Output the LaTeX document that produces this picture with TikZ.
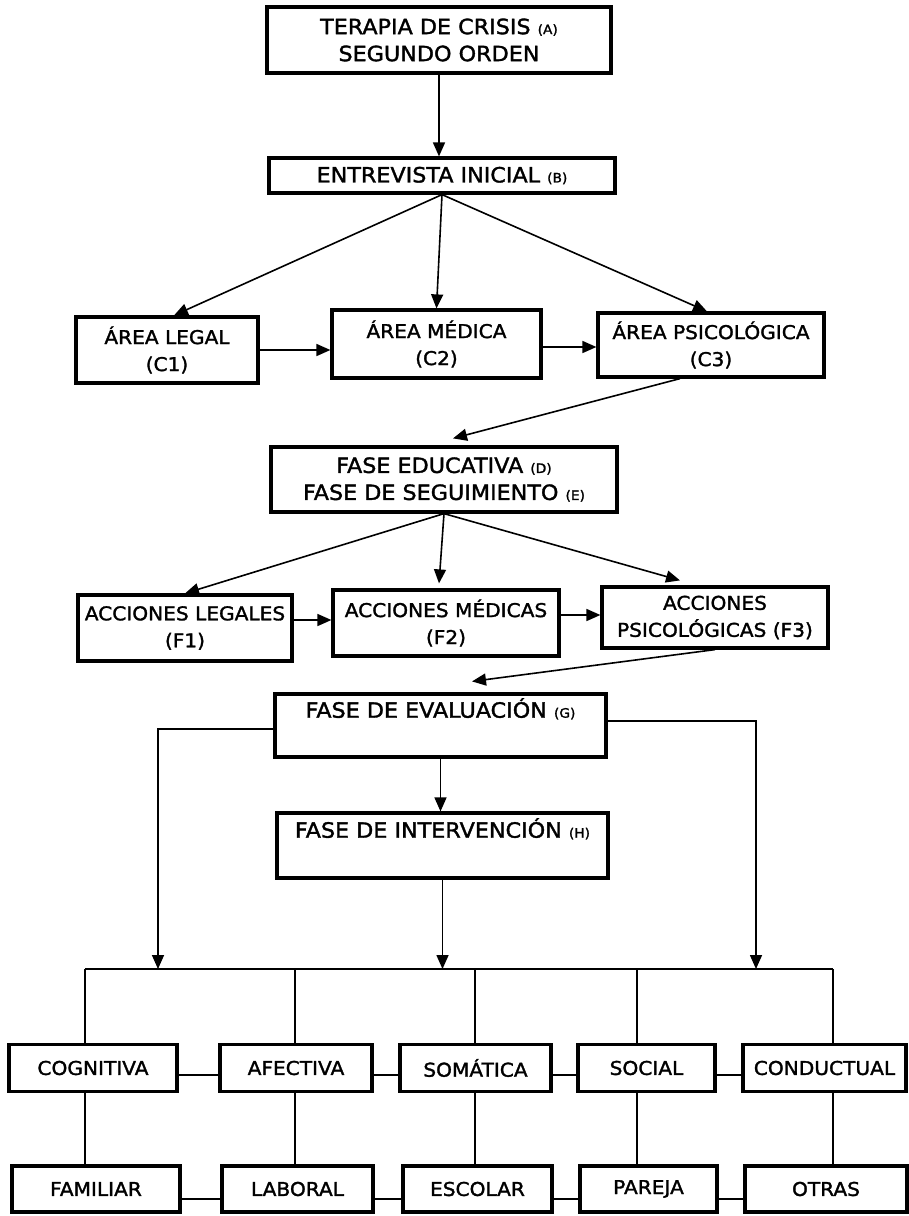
\documentclass[tikz,border=0pt]{standalone}
\usepackage{fontspec}
\setmainfont{DejaVu Sans}[FakeStretch=1.06,RawFeature={embolden=1.6}]
\usetikzlibrary{arrows.meta}
\newcommand{\lettag}[1]{{\fontsize{6.5}{6.5}\selectfont #1}}
\tikzset{
    phase/.style = {
        draw,
        line width=1.6pt,
        inner sep=0pt,
        align=center,
        font=\fontsize{10.5}{13.5}\selectfont,
        },
    area/.style = {
        draw,
        line width=1.6pt,
        inner sep=0pt,
        align=center,
        font=\fontsize{9.5}{13.5}\selectfont,
        },
    link/.style = {
        line width=0.8pt,
        -{Triangle[length=7pt,width=6pt]},
        },
    tie/.style = {
        line width=0.8pt,
        },
}

\begin{document}
\begin{tikzpicture}[x=0.5pt, y=-0.5pt]
    \useasboundingbox (0,0) rectangle (909,1216);

    % phases and areas
    \node[phase, minimum width=172pt, minimum height=33pt] (A) at (439,40) {TERAPIA DE CRISIS \lettag{(A)}\\SEGUNDO ORDEN};
    \node[phase, minimum width=173pt, minimum height=17.5pt] (B) at (442,175.5) {ENTREVISTA INICIAL \lettag{(B)}};
    \node[area, minimum width=91pt, minimum height=33pt] (C1) at (167,350) {ÁREA LEGAL\\(C1)};
    \node[area, minimum width=104.5pt, minimum height=34pt] (C2) at (436.5,344) {ÁREA MÉDICA\\(C2)};
    \node[area, minimum width=113pt, minimum height=32pt] (C3) at (711,345) {ÁREA PSICOLÓGICA\\(C3)};
    \node[phase, minimum width=173pt, minimum height=32.5pt] (D) at (444,479.5) {FASE EDUCATIVA \lettag{(D)}\\FASE DE SEGUIMIENTO \lettag{(E)}};
    \node[area, minimum width=107pt, minimum height=33pt] (F1) at (185,628) {ACCIONES LEGALES\\(F1)};
    \node[area, minimum width=113pt, minimum height=33pt] (F2) at (446,623) {ACCIONES MÉDICAS\\(F2)};
    \node[area, minimum width=113pt, minimum height=30.5pt] (F3) at (715,617.5) {ACCIONES\\PSICOLÓGICAS (F3)};
    \node[phase, minimum width=165.5pt, minimum height=31.5pt] (G) at (440.5,725.5) {FASE DE EVALUACIÓN \lettag{(G)}\\\strut};
    \node[phase, minimum width=165.5pt, minimum height=32.5pt] (H) at (442.5,845.5) {FASE DE INTERVENCIÓN \lettag{(H)}\\\strut};

    % dimensions
    \node[area, minimum width=84pt, minimum height=23.5pt] (cog) at (93,1068) {COGNITIVA};
    \node[area, minimum width=76pt, minimum height=23.5pt] (afe) at (296,1068) {AFECTIVA};
    \node[area, minimum width=75.5pt, minimum height=23.5pt] (som) at (475.5,1068) {SOMÁTICA};
    \node[area, minimum width=68.5pt, minimum height=23.5pt] (soc) at (646.5,1068) {SOCIAL};
    \node[area, minimum width=81.5pt, minimum height=23.5pt] (con) at (824.5,1068) {CONDUCTUAL};

    % contexts
    \node[area, minimum width=84pt, minimum height=23pt] (fam) at (96,1189) {FAMILIAR};
    \node[area, minimum width=75.5pt, minimum height=23pt] (lab) at (297.5,1189) {LABORAL};
    \node[area, minimum width=74.5pt, minimum height=23pt] (esc) at (477.5,1189) {ESCOLAR};
    \node[area, minimum width=68.5pt, minimum height=23pt] (par) at (648.5,1189) {PAREJA};
    \node[area, minimum width=81pt, minimum height=23pt] (otr) at (826,1189) {OTRAS};

    \coordinate (v1) at (85,969);
    \coordinate (v2) at (295,969);
    \coordinate (v3) at (475,969);
    \coordinate (v4) at (637,969);
    \coordinate (v5) at (833,969);
    \coordinate (gl) at (158,969);
    \coordinate (gr) at (756,969);

    \draw[link] (A.south) -- (A.south |- B.north);
    \draw[link] (B.south) -- ([xshift=3.5pt]C1.north);
    \draw[link] (B.south) -- (C2.north);
    \draw[link] (B.south) -- ([xshift=-2pt]C3.north);
    \draw[link] (C1.east) -- (C1.east -| C2.west);
    \draw[link] ([yshift=-1.5pt]C2.east) -- ([yshift=-1.5pt]C2.east -| C3.west);
    \draw[link] ([xshift=-15.5pt]C3.south) -- ([xshift=4.5pt,yshift=3.5pt]D.north);

    \draw[link] (D.south) -- (F1.north);
    \draw[link] (D.south) -- ([xshift=-3.5pt,yshift=2.5pt]F2.north);
    \draw[link] (D.south) -- ([xshift=-17.5pt,yshift=2.5pt]F3.north);
    \draw[link] ([yshift=4pt]F1.east) -- ([yshift=4pt]F1.east -| F2.west);
    \draw[link] ([yshift=4pt]F2.east) -- ([yshift=4pt]F2.east -| F3.west);
    \draw[link] (F3.south) -- ([xshift=15.75pt,yshift=5.5pt]G.north);

    \draw[link] (G.south) -- (G.south |- H.north);
    \draw[link] ([yshift=-1.75pt]G.west) -| (gl);
    \draw[link] ([yshift=2.25pt]G.east) -| (gr);
    \draw[link] (H.south) -- (H.south |- v1);

    % bus and branches
    \draw[tie] (v1) -- (v5);
    \foreach \v/\t/\b in {v1/cog/fam, v2/afe/lab, v3/som/esc, v4/soc/par, v5/con/otr} {
        \draw[tie] (\v) -- (\v |- \t.north);
        \draw[tie] (\v |- \t.south) -- (\v |- \b.north);
    }
    \foreach \l/\r in {cog/afe, afe/som, som/soc, soc/con}
        \draw[tie] ([yshift=-3.5pt]\l.east) -- ([yshift=-3.5pt]\l.east -| \r.west);
    \foreach \l/\r in {fam/lab, lab/esc, esc/par, par/otr}
        \draw[tie] ([yshift=-5pt]\l.east) -- ([yshift=-5pt]\l.east -| \r.west);
\end{tikzpicture}
\end{document}
